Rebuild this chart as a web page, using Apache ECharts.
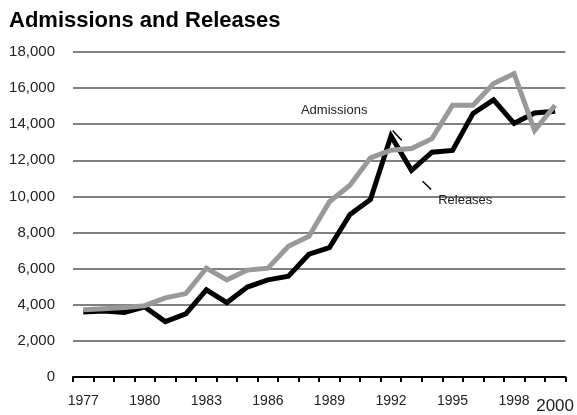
<!DOCTYPE html>
<html>
<head>
<meta charset="utf-8">
<script src="https://cdn.jsdelivr.net/npm/echarts@6/dist/echarts.min.js"></script>
<style>
html,body{margin:0;padding:0;background:#fff;}
#main{width:577px;height:415px;}
</style>
</head>
<body>
<div id="main"></div>
<script>
// ---- data ----
const years = ['1977','1978','1979','1980','1981','1982','1983','1984','1985','1986','1987','1988',
               '1989','1990','1991','1992','1993','1994','1995','1996','1997','1998','1999','2000'];
const releases = [3600,3650,3580,3880,3070,3500,4830,4120,4980,5380,5580,6800,
                  7170,9000,9830,13350,11450,12450,12550,14600,15350,14050,14620,14720];
const admissions = [3720,3780,3850,3950,4380,4620,6030,5380,5920,6030,7240,7790,
                    9710,10620,12140,12560,12650,13200,15050,15050,16250,16800,13650,15050];
const yTicks = [0,2000,4000,6000,8000,10000,12000,14000,16000,18000];
// annotation anchors in data space: [category index, value]
const admissionsLabel = [12.23, 14750];
const releasesLabel = [18.62, 9770];
const admissionsLeader = [[15.08, 13650],[15.53, 13100]];
const releasesLeader = [[16.54, 10840],[16.96, 10380]];

const chart = echarts.init(document.getElementById('main'));
const lastIdx = years.length - 1;
chart.setOption({
  animation: false,
  backgroundColor: '#fff',
  title: {
    text: 'Admissions and Releases',
    left: 9, top: 10, padding: 0,
    textStyle: {fontFamily: 'Liberation Sans', fontWeight: 'bold', fontSize: 22, color: '#000'}
  },
  grid: {left: 73, right: 11, top: 52, bottom: 33},
  xAxis: {
    type: 'category',
    data: years,
    boundaryGap: true,
    axisLine: {lineStyle: {color: '#000', width: 2}},
    axisTick: {show: true, length: 5, lineStyle: {color: '#000', width: 2}, interval: 0},
    axisLabel: {
      margin: 17,
      fontFamily: 'Liberation Sans', fontSize: 14, color: '#222',
      interval: function (i) { return i % 3 === 0 || i === lastIdx; },
      formatter: function (v, i) { return i === lastIdx ? '{big|' + v + '}' : v; },
      rich: {big: {fontFamily: 'Liberation Sans', fontSize: 17, color: '#222', padding: [4, 0, 0, 0]}}
    },
    splitLine: {show: false}
  },
  yAxis: {
    type: 'value',
    min: yTicks[0], max: yTicks[yTicks.length - 1], interval: 2000,
    axisLine: {show: false},
    axisTick: {show: false},
    axisLabel: {
      margin: 18, fontFamily: 'Liberation Sans', fontSize: 15, color: '#222',
      padding: [0, 0, 4, 0],
      formatter: function (v) { return v.toLocaleString('en-US'); }
    },
    splitLine: {lineStyle: {color: '#808080', width: 2}}
  },
  series: [
    {
      name: 'Releases', type: 'line', data: releases,
      symbol: 'none', z: 3,
      lineStyle: {color: '#000', width: 5, join: 'miter'}
    },
    {
      name: 'Admissions', type: 'line', data: admissions,
      symbol: 'none', z: 4,
      lineStyle: {color: '#999', width: 5, join: 'miter'}
    }
  ]
});

function toPx(pt) {
  const idx = pt[0], val = pt[1];
  const i0 = Math.floor(idx);
  const a = chart.convertToPixel({gridIndex: 0}, [i0, val]);
  const b = chart.convertToPixel({gridIndex: 0}, [i0 + 1, val]);
  return [a[0] + (idx - i0) * (b[0] - a[0]), a[1]];
}
const aL = toPx(admissionsLabel), rL = toPx(releasesLabel);
const a1 = toPx(admissionsLeader[0]), a2 = toPx(admissionsLeader[1]);
const r1 = toPx(releasesLeader[0]), r2 = toPx(releasesLeader[1]);
chart.setOption({
  graphic: [
    {type: 'text', x: aL[0], y: aL[1], z: 10,
     style: {text: 'Admissions', fill: '#222', font: '13px "Liberation Sans"', textAlign: 'center', textVerticalAlign: 'middle'}},
    {type: 'text', x: rL[0], y: rL[1], z: 10,
     style: {text: 'Releases', fill: '#222', font: '13px "Liberation Sans"', textAlign: 'center', textVerticalAlign: 'middle'}},
    {type: 'line', z: 10, shape: {x1: a1[0], y1: a1[1], x2: a2[0], y2: a2[1]}, style: {stroke: '#000', lineWidth: 1.5}},
    {type: 'line', z: 10, shape: {x1: r1[0], y1: r1[1], x2: r2[0], y2: r2[1]}, style: {stroke: '#000', lineWidth: 1.5}}
  ]
});
</script>
</body>
</html>
